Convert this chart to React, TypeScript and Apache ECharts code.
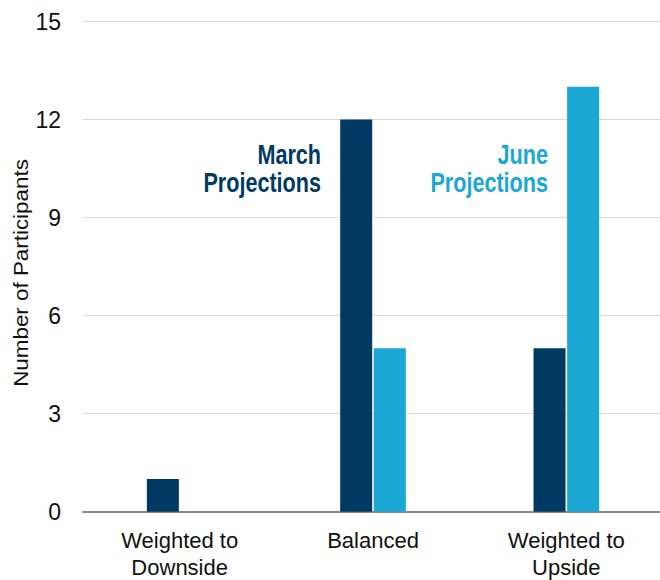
import React, { useEffect, useRef } from "react";
import * as echarts from "echarts";

const categories = ["Weighted to\nDownside", "Balanced", "Weighted to\nUpside"];
const marchValues = [1, 12, 5];
const juneValues = [0, 5, 13];
const yTicks = { min: 0, max: 15, interval: 3 };
const yAxisTitle = "Number of Participants";
const annotations = [
  { lines: ["March", "Projections"], right: 321, color: "#003A63" },
  { lines: ["June", "Projections"], right: 548, color: "#1AA7D4" },
];

const NAVY = "#003A63";
const BLUE = "#1AA7D4";
const SANS = "'Liberation Sans', Arial, sans-serif";

export default function App() {
  const ref = useRef<HTMLDivElement>(null);
  useEffect(() => {
    if (!ref.current) return;
    const chart = echarts.init(ref.current, undefined, { renderer: "svg" });
    const graphic: any[] = [];
    annotations.forEach((a) => {
      a.lines.forEach((line, i) => {
        graphic.push({
          type: "text",
          x: a.right,
          y: 155 + i * 28,
          scaleX: 0.8,
          style: {
            text: line,
            fill: a.color,
            font: `bold 27px ${SANS}`,
            align: "right",
            verticalAlign: "middle",
          },
        });
      });
    });
    graphic.push({
      type: "text",
      x: 21,
      y: 273,
      rotation: Math.PI / 2,
      scaleX: 1.12,
      style: {
        text: yAxisTitle,
        fill: "#111",
        font: `20px ${SANS}`,
        align: "center",
        verticalAlign: "middle",
      },
    });
    chart.setOption({
      animation: false,
      grid: {
        left: 83,
        right: -3,
        top: 21.5,
        bottom: 68.3,
        containLabel: false,
        outerBoundsMode: "none",
      },
      xAxis: {
        type: "category",
        data: categories,
        axisTick: { show: false },
        axisLine: { lineStyle: { color: "#8c8c8c", width: 2 } },
        axisLabel: {
          color: "#111",
          fontSize: 22,
          fontFamily: SANS,
          lineHeight: 27,
          margin: 15,
          interval: 0,
        },
      },
      yAxis: {
        type: "value",
        min: yTicks.min,
        max: yTicks.max,
        interval: yTicks.interval,
        axisLine: { show: false },
        axisTick: { show: false },
        axisLabel: { color: "#111", fontSize: 23, margin: 22, fontFamily: SANS },
        splitLine: { lineStyle: { color: "#d9d9d9", width: 1 } },
      },
      series: [
        {
          name: "March Projections",
          type: "bar",
          data: marchValues,
          barWidth: 32,
          barGap: "5%",
          itemStyle: { color: NAVY },
        },
        {
          name: "June Projections",
          type: "bar",
          data: juneValues,
          barWidth: 32,
          barGap: "5%",
          itemStyle: { color: BLUE },
        },
      ],
      graphic,
    });
    return () => chart.dispose();
  }, []);
  return <div ref={ref} style={{ width: 660, height: 580, position: "absolute", left: 0, top: 0 }} />;
}
